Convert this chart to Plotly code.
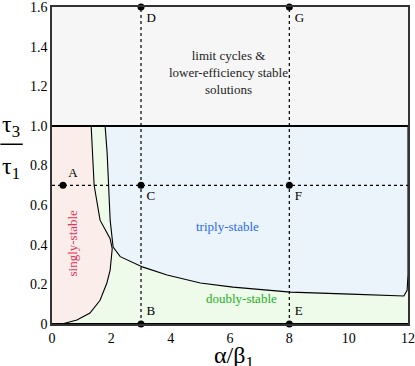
import plotly.graph_objects as go

# boundary of the singly-stable region (alpha/beta1, tau3/tau1)
singly_x = [0.0, 0.33, 0.84, 1.28, 1.62, 1.85, 1.96, 2.03, 1.96, 1.62, 1.42, 1.39, 1.35, 1.32, 0.0]
singly_y = [0.0, 0.0, 0.02, 0.055, 0.12, 0.207, 0.272, 0.38, 0.43, 0.524, 0.70, 0.776, 0.9, 1.0, 1.0]

# boundary of the triply-stable region
triply_x = [1.79, 1.86, 1.96, 2.06, 2.3, 3.07, 3.88, 5.0, 6.1, 8.04, 10.07, 11.86, 11.97, 12.0, 12.0, 1.79]
triply_y = [1.0, 0.86, 0.524, 0.388, 0.34, 0.287, 0.247, 0.207, 0.186, 0.161, 0.151, 0.141, 0.17, 0.25, 1.0, 1.0]

# full domain
x_rng = [0, 12]
y_rng = [0, 1.6]
y_split = 1.0

# sample points
pt_names = ["A", "B", "C", "D", "E", "F", "G"]
pt_x = [0.37, 3, 3, 3, 8, 8, 8]
pt_y = [0.7, 0, 0.7, 1.6, 0, 0.7, 1.6]
pt_pos = ["top right", "top right", "bottom right", "bottom right", "top right", "bottom right", "bottom right"]

cut_y = 0.7
cut_x = [3, 8]

serif = "Liberation Serif, Times New Roman, serif"
dash = dict(color="black", width=1.2, dash="3px,3px")

fig = go.Figure()

# background regions
fig.add_trace(go.Scatter(
    x=[x_rng[0], x_rng[1], x_rng[1], x_rng[0], x_rng[0]],
    y=[y_split, y_split, y_rng[1], y_rng[1], y_split],
    fill="toself", fillcolor="#f6f6f6", mode="none",
))
fig.add_trace(go.Scatter(
    x=[x_rng[0], x_rng[1], x_rng[1], x_rng[0], x_rng[0]],
    y=[0, 0, y_split, y_split, 0],
    fill="toself", fillcolor="#eefaea", mode="none",
))
fig.add_trace(go.Scatter(
    x=triply_x, y=triply_y, fill="toself", fillcolor="#ebf3fb",
    mode="lines", line=dict(color="black", width=1.1),
))
fig.add_trace(go.Scatter(
    x=singly_x, y=singly_y, fill="toself", fillcolor="#fbeeea",
    mode="lines", line=dict(color="black", width=1.1),
))

# thick separator at tau3/tau1 = 1 and bottom edge
fig.add_trace(go.Scatter(x=x_rng, y=[y_split, y_split], mode="lines", line=dict(color="black", width=2)))
fig.add_trace(go.Scatter(x=x_rng, y=[0, 0], mode="lines", line=dict(color="black", width=2)))

# dashed cuts
fig.add_trace(go.Scatter(x=x_rng, y=[cut_y, cut_y], mode="lines", line=dash))
for cx in cut_x:
    fig.add_trace(go.Scatter(x=[cx, cx], y=y_rng, mode="lines", line=dash))

# sample points
fig.add_trace(go.Scatter(
    x=pt_x, y=pt_y, mode="markers+text", text=pt_names, textposition=pt_pos,
    marker=dict(color="black", size=7),
    textfont=dict(family=serif, size=13, color="black"), cliponaxis=False,
))

# region labels
fig.add_annotation(x=5.95, y=1.27, text="limit cycles &<br>lower-efficiency stable<br>solutions",
                   showarrow=False, font=dict(family=serif, size=13, color="#222"))
fig.add_annotation(x=5.9, y=0.49, text="triply-stable", showarrow=False,
                   font=dict(family=serif, size=13, color="#2a6cf0"))
fig.add_annotation(x=6.4, y=0.13, text="doubly-stable", showarrow=False,
                   font=dict(family=serif, size=13, color="#22b022"))
fig.add_annotation(x=0.7, y=0.41, text="singly-stable", showarrow=False, textangle=-90,
                   font=dict(family=serif, size=13, color="#e8305a"))

# axis titles
title_font = dict(family=serif, size=24, color="black")
fig.add_annotation(xref="paper", yref="paper", x=-0.115, y=0.572, text="τ<sub>3</sub>",
                   showarrow=False, font=title_font, xanchor="center", yanchor="bottom")
fig.add_annotation(xref="paper", yref="paper", x=-0.115, y=0.545, text="τ<sub>1</sub>",
                   showarrow=False, font=title_font, xanchor="center", yanchor="top")
fig.add_shape(type="line", xref="paper", yref="paper", x0=-0.145, x1=-0.082, y0=0.567, y1=0.567,
              line=dict(color="black", width=1.5))
fig.add_annotation(xref="paper", yref="paper", x=0.51, y=-0.05, text="α/β<sub>1</sub>",
                   showarrow=False, font=title_font, xanchor="center", yanchor="top")

axis = dict(showgrid=False, zeroline=False, showline=True, mirror=True, linecolor="#333",
            linewidth=1.5, ticks="", automargin=False, ticklabeloverflow="allow",
            tickfont=dict(family=serif, size=14, color="black"))
fig.update_xaxes(range=x_rng, tickvals=[0, 2, 4, 6, 8, 10, 12], **axis)
fig.update_yaxes(range=y_rng, tickvals=[0, 0.2, 0.4, 0.6, 0.8, 1.0, 1.2, 1.4, 1.6],
                 ticktext=["0", "0.2", "0.4", "0.6", "0.8", "1.0", "1.2", "1.4", "1.6"], **axis)

fig.update_layout(
    width=415, height=366, showlegend=False,
    margin=dict(l=52, r=7, t=7, b=42, autoexpand=False),
    plot_bgcolor="white", paper_bgcolor="white",
)

# drop the page's default body margin so the figure sits at the window origin
fig.write_html(
    "out.html",
    config={"displayModeBar": False},
    post_script="document.body.style.margin='0';document.body.style.overflow='hidden';",
)
